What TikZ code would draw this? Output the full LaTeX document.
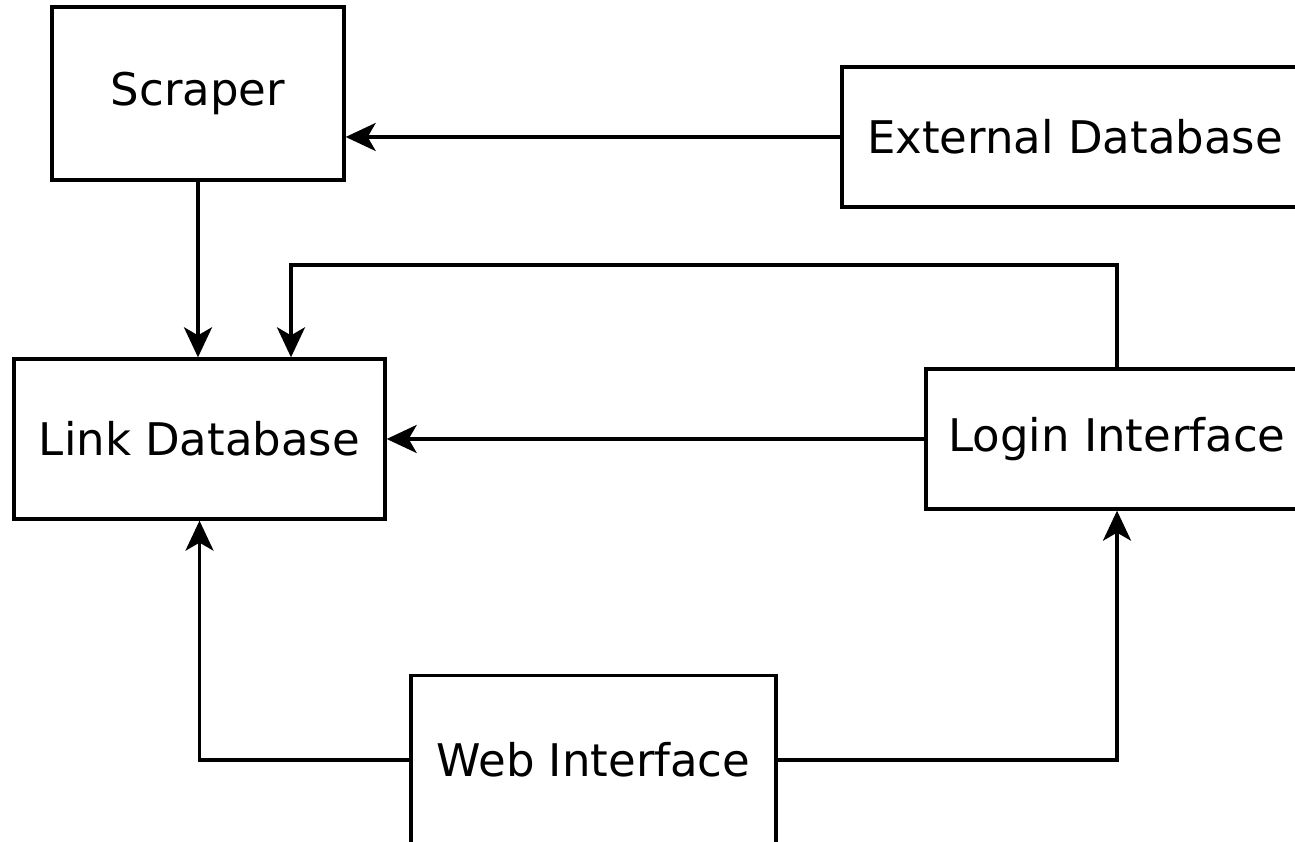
\documentclass[tikz,border=0pt]{standalone}
\usepackage{fontspec}
\setmainfont{DejaVu Sans}
\usetikzlibrary{arrows.meta}

\begin{document}
\begin{tikzpicture}[
	box/.style={draw, line width=1.9pt, minimum width=#1, inner sep=0pt, font=\fontsize{25.6}{30}\selectfont},
	link/.style={line width=1.9pt, -{Stealth[length=0.6cm, width=0.56cm, inset=0.16cm]}}]
	\useasboundingbox (0,0) rectangle (25.9,16.84);
	\clip (0,0) rectangle (25.9,16.84);
	%%%nodes
	%top row
	\node[box=5.84cm, minimum height=3.46cm] at (3.96,14.97) (scraper){Scraper};
	\node[box=9.32cm, minimum height=2.8cm] at (21.5,14.1) (extdb){External Database};
	%middle row
	\node[box=7.42cm, minimum height=3.2cm] at (3.99,8.06) (linkdb){Link Database};
	\node[box=7.64cm, minimum height=2.8cm] at (22.34,8.06) (login){Login Interface};
	%bottom
	\node[box=7.3cm, minimum height=3.38cm] at (11.87,1.64) (web){Web Interface};
	%bend above the link database
	\coordinate (bend) at (5.82,11.54);
	%%%links
	\draw[link] (extdb.west) -- (extdb.west -| scraper.east);
	\draw[link] (scraper.south) -- (scraper.south |- linkdb.north);
	\draw[link] (login.north) |- (bend) -- (bend |- linkdb.north);
	\draw[link] (login.west) -- (login.west -| linkdb.east);
	\draw[link] (web.west) -| (linkdb.south);
	\draw[link] (web.east) -| (login.south);
\end{tikzpicture}
\end{document}
